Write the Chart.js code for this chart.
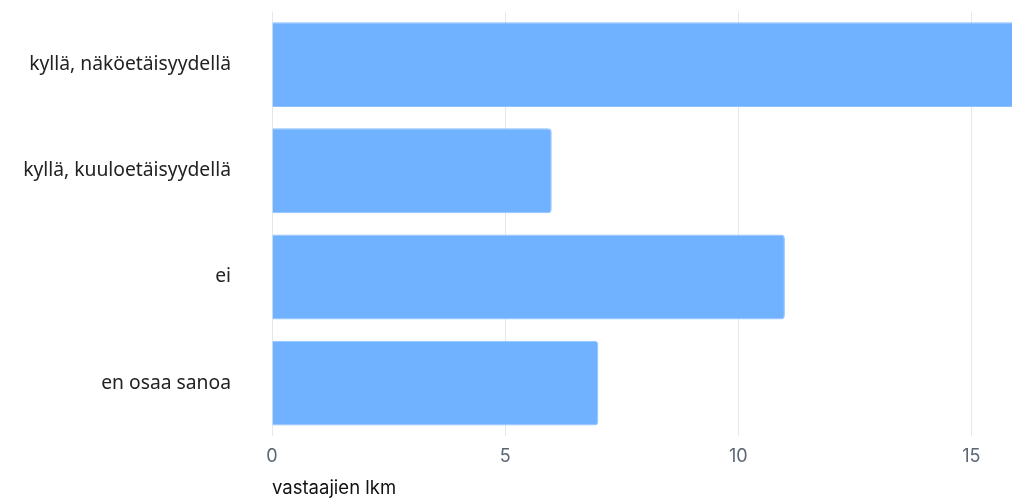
<!DOCTYPE html>
<html>
<head>
<meta charset="utf-8">
<script src="https://cdn.jsdelivr.net/npm/chart.js@4"></script>
<style>
  html, body { margin: 0; padding: 0; overflow: hidden; background: #fff; }
  #wrap { width: 1020px; height: 500px; }
</style>
</head>
<body>
<div id="wrap"><canvas id="barChart"></canvas></div>
<script>
const categories = ['kyllä, näköetäisyydellä', 'kyllä, kuuloetäisyydellä', 'ei', 'en osaa sanoa']
const counts = [16, 6, 11, 7]
const xTicks = [0, 5, 10, 15]
const xTitle = 'vastaajien lkm'

function drawChart() {
  const ctx = document.getElementById('barChart').getContext('2d')
  let barChart = new Chart(ctx, {
    type: 'bar',
    data: {
      labels: categories,
      datasets: [
        {
          data: counts,
          backgroundColor: '#70b2ff',
          borderColor: '#8cc2ff',
          borderWidth: 1,
          borderRadius: 4,
          borderSkipped: 'start',
          barPercentage: 0.8,
          categoryPercentage: 1
        }
      ]
    },
    options: {
      indexAxis: 'y',
      responsive: true,
      maintainAspectRatio: false,
      animation: false,
      layout: { padding: { top: 0, right: 2, left: 0, bottom: 0 } },
      plugins: { legend: { display: false }, tooltip: { enabled: false } },
      scales: {
        x: {
          min: 0,
          max: 16,
          afterBuildTicks: (scale) => {
            // only the labelled steps
            scale.ticks = xTicks.map(v => ({ value: v }))
          },
          grid: { color: '#e4e8eb', drawTicks: false },
          border: { display: false },
          ticks: {
            padding: 10,
            color: '#5b6675',
            font: { family: 'Inter', size: 18 }
          },
          title: {
            display: true,
            text: xTitle,
            align: 'start',
            color: '#111',
            font: { family: 'Inter', size: 18.5 },
            padding: { top: 0, bottom: 0 }
          }
        },
        y: {
          // invisible tick marks push the labels away from the bars
          grid: { display: true, drawOnChartArea: false, drawTicks: true, tickLength: 41, tickColor: 'rgba(0,0,0,0)' },
          border: { display: false },
          afterFit: (scale) => { scale.width = 272 },
          ticks: {
            padding: 0,
            color: '#222',
            font: { family: 'Noto Sans', size: 19.3 }
          }
        }
      }
    }
  })
}

Promise.all([
  document.fonts.load('19px "Noto Sans"'),
  document.fonts.load('18px "Inter"')
]).then(drawChart, drawChart)
</script>
</body>
</html>
